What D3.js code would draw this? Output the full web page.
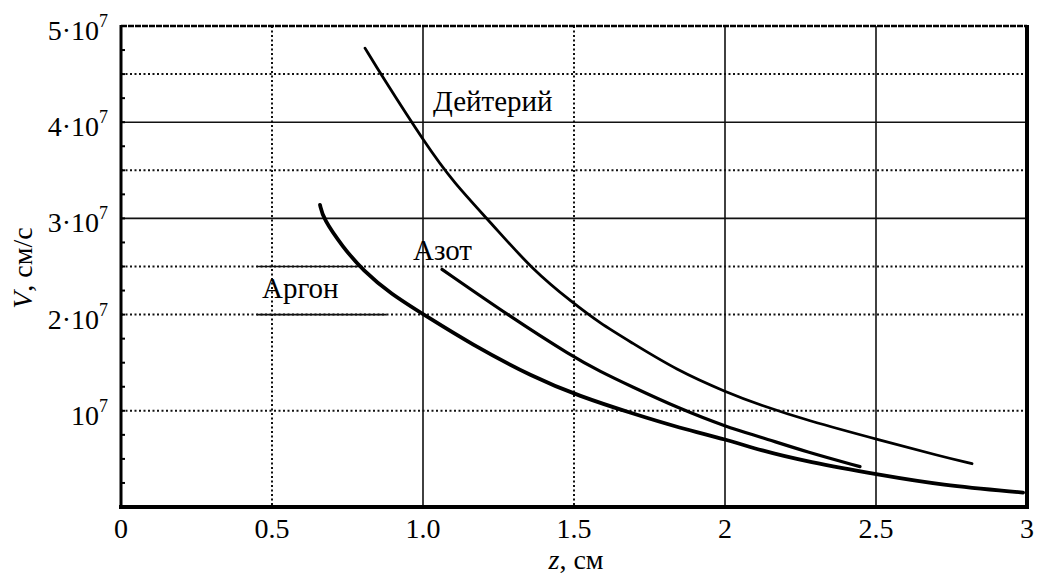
<!DOCTYPE html>
<html>
<head>
<meta charset="utf-8">
<script src="https://cdn.jsdelivr.net/npm/d3@7"></script>
<style>
  body { margin: 0; background: #fff; }
  svg { display: block; }
  text { font-family: "Liberation Serif", "Times New Roman", serif; fill: #000; }
</style>
</head>
<body>
<svg width="1037" height="574"></svg>
<script>
// values (z in cm, V in 1e7 cm/s)
const deuteriumZ = [0.808, 0.864, 1.007, 1.099, 1.232, 1.364, 1.497, 1.586, 1.685, 1.841, 2.007, 2.116, 2.272, 2.52, 2.712, 2.818];
const deuteriumV = [4.77, 4.48, 3.78, 3.38, 2.93, 2.46, 2.12, 1.91, 1.72, 1.42, 1.19, 1.06, 0.9, 0.69, 0.53, 0.45];

const nitrogenZ = [1.063, 1.288, 1.497, 1.586, 1.685, 1.851, 2.007, 2.116, 2.272, 2.447];
const nitrogenV = [2.47, 1.98, 1.56, 1.41, 1.26, 1.02, 0.83, 0.73, 0.57, 0.42];

const argonZ = [0.659, 0.669, 0.735, 0.801, 0.891, 1.013, 1.156, 1.364, 1.52, 1.685, 1.851, 2.007, 2.116, 2.272, 2.52, 2.712, 2.987];
const argonV = [3.14, 3.0, 2.7, 2.46, 2.22, 1.98, 1.7, 1.35, 1.15, 0.98, 0.82, 0.7, 0.59, 0.47, 0.33, 0.23, 0.15];

const xTicks = [0, 0.5, 1, 1.5, 2, 2.5, 3];
const xTickLabels = ['0', '0.5', '1.0', '1.5', '2', '2.5', '3'];
const yTicks = [1e7, 2e7, 3e7, 4e7, 5e7];
const yTickMantissa = ['', '2', '3', '4', '5'];

const hGridSolid = [3e7, 4e7];
const hGridDotted = [1e7, 2e7, 2.5e7, 3.5e7, 4.5e7];
const vGridSolid = [1, 2, 2.5];
const vGridDotted = [0.5, 1.5];

const svg = d3.select('svg');
const mLeft = 121;
const mRight = 1027;
const mTop = 26;
const mBottom = 507;

const x = d3.scaleLinear().domain([0, 3]).range([mLeft, mRight]);
const y = d3.scaleLinear().domain([0, 5e7]).range([mBottom, mTop]);

// grid
const grid = svg.append('g');
grid.selectAll('.hs').data(hGridSolid).enter().append('line')
  .attr('x1', mLeft).attr('x2', mRight)
  .attr('y1', (d) => y(d)).attr('y2', (d) => y(d))
  .attr('stroke', '#111').attr('stroke-width', 1.6);
grid.selectAll('.hd').data(hGridDotted).enter().append('line')
  .attr('x1', mLeft).attr('x2', mRight)
  .attr('y1', (d) => y(d)).attr('y2', (d) => y(d))
  .attr('stroke', '#111').attr('stroke-width', 2)
  .attr('stroke-dasharray', '2,2.5');
grid.selectAll('.vs').data(vGridSolid).enter().append('line')
  .attr('y1', mTop).attr('y2', mBottom)
  .attr('x1', (d) => x(d)).attr('x2', (d) => x(d))
  .attr('stroke', '#111').attr('stroke-width', 1.6);
grid.selectAll('.vd').data(vGridDotted).enter().append('line')
  .attr('y1', mTop).attr('y2', mBottom)
  .attr('x1', (d) => x(d)).attr('x2', (d) => x(d))
  .attr('stroke', '#111').attr('stroke-width', 2)
  .attr('stroke-dasharray', '2,2.5');

// short solid strokes round the Аргон label
grid.selectAll('.seg').data([[0.45, 0.8, 2.5e7], [0.45, 0.88, 2e7]]).enter().append('line')
  .attr('x1', (d) => x(d[0])).attr('x2', (d) => x(d[1]))
  .attr('y1', (d) => y(d[2])).attr('y2', (d) => y(d[2]))
  .attr('stroke', '#111').attr('stroke-width', 1.6);

// minor ticks on the left axis
svg.append('g').selectAll('line').data(d3.range(2.5e6, 5e7, 2.5e6)).enter().append('line')
  .attr('x1', mLeft).attr('x2', mLeft + 4)
  .attr('y1', (d) => y(d)).attr('y2', (d) => y(d))
  .attr('stroke', '#000').attr('stroke-width', 2);

// frame
svg.append('line').attr('x1', mLeft).attr('x2', mRight).attr('y1', mTop).attr('y2', mTop)
  .attr('stroke', '#000').attr('stroke-width', 2.5).attr('stroke-dasharray', '6,1');
svg.append('line').attr('x1', mLeft).attr('x2', mLeft).attr('y1', mTop - 1).attr('y2', mBottom)
  .attr('stroke', '#000').attr('stroke-width', 3);
svg.append('line').attr('x1', mRight).attr('x2', mRight).attr('y1', mTop - 1).attr('y2', mBottom + 2)
  .attr('stroke', '#000').attr('stroke-width', 4);
svg.append('line').attr('x1', mLeft - 2).attr('x2', mRight + 2).attr('y1', mBottom).attr('y2', mBottom)
  .attr('stroke', '#000').attr('stroke-width', 4);

// curves
const line = d3.line()
  .x((d) => x(d[0]))
  .y((d) => y(d[1] * 1e7))
  .curve(d3.curveBasis);

const series = [
  { z: deuteriumZ, v: deuteriumV, w: 2.8 },
  { z: nitrogenZ, v: nitrogenV, w: 3.2 },
  { z: argonZ, v: argonV, w: 3.8 },
];
svg.append('g').selectAll('path').data(series).enter().append('path')
  .attr('d', (s) => line(s.z.map((z, i) => [z, s.v[i]])))
  .attr('fill', 'none')
  .attr('stroke', '#000')
  .attr('stroke-width', (s) => s.w)
  .attr('stroke-linecap', 'round')
  .attr('stroke-linejoin', 'round');

// tick labels
svg.append('g').selectAll('text').data(xTicks).enter().append('text')
  .attr('x', (d) => x(d))
  .attr('y', 538)
  .attr('text-anchor', 'middle')
  .attr('font-size', 28)
  .text((d, i) => xTickLabels[i]);

const yl = svg.append('g').selectAll('text').data(yTicks).enter().append('text')
  .attr('x', 108)
  .attr('y', (d) => y(d) + 14)
  .attr('text-anchor', 'end')
  .attr('font-size', 28);
yl.append('tspan').text((d, i) => (yTickMantissa[i] ? `${yTickMantissa[i]}\u00b710` : '10'));
yl.append('tspan').attr('dy', -13).attr('font-size', 18).text('7');

// axis titles
const xt = svg.append('text').attr('x', 576).attr('y', 569)
  .attr('text-anchor', 'middle').attr('font-size', 28);
xt.append('tspan').attr('font-style', 'italic').text('z');
xt.append('tspan').text(', см');

const yt = svg.append('text')
  .attr('transform', 'translate(32,268) rotate(-90)')
  .attr('text-anchor', 'middle').attr('font-size', 28);
yt.append('tspan').attr('font-style', 'italic').text('V');
yt.append('tspan').text(', см/с');

// curve labels
svg.append('text').attr('x', 433).attr('y', 111).attr('font-size', 29).text('Дейтерий');
svg.append('text').attr('x', 413).attr('y', 260).attr('font-size', 29).text('Азот');
svg.append('text').attr('x', 262).attr('y', 298).attr('font-size', 29).text('Аргон');
</script>
</body>
</html>
